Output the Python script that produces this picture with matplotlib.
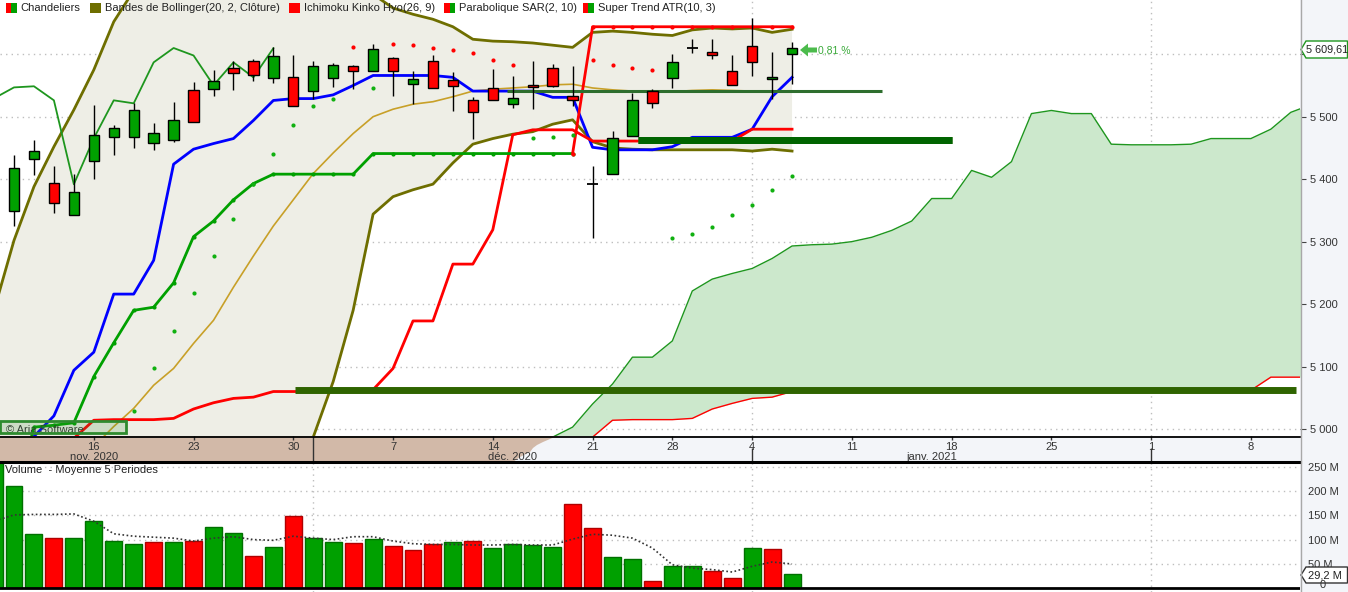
import numpy as np
import matplotlib
matplotlib.use("Agg")
import matplotlib.pyplot as plt
from matplotlib.patches import Rectangle, Polygon

plt.rcParams['font.family'] = ['Liberation Sans', 'DejaVu Sans']

W, H = 1348, 592

# --- CAC 40 quotidien, 10 nov. 2020 -> 6 janv. 2021 (index 0..39) ---
opens = [5349.5, 5431.8, 5393.4, 5342, 5428.6, 5467, 5467, 5457.4, 5462.2, 5542.3,
         5544.8, 5577.5, 5588.7, 5561.5, 5563, 5540.7, 5561.5, 5580.7, 5572.7, 5593.4,
         5552, 5588.7, 5558.4, 5526.2, 5545.5, 5519.8, 5550.1, 5577.5, 5532.6, 5391.8,
         5408.7, 5469.6, 5540.7, 5561.5, 5610, 5603, 5572.7, 5612.7, 5560, 5600]
highs = [5438.7, 5462.7, 5421, 5409, 5518.7, 5486, 5521.4, 5489.4, 5523, 5555.5,
         5574.8, 5588.7, 5592.4, 5611, 5598.8, 5588.7, 5585.5, 5582.3, 5616.4, 5595,
         5572.7, 5598.8, 5571, 5531, 5576.4, 5565.1, 5589.2, 5584.4, 5581.2, 5421,
         5477.1, 5537.4, 5543.9, 5600.4, 5624.4, 5624.4, 5598.8, 5658, 5603, 5619]
lows = [5325.5, 5406.7, 5346, 5342, 5400.7, 5439, 5450.4, 5447, 5460, 5491,
        5533.6, 5543.2, 5557.6, 5554.4, 5516.6, 5527.8, 5548, 5544.8, 5572.7, 5533.6,
        5519.8, 5545.5, 5509.6, 5464.8, 5526.2, 5514.4, 5512.8, 5547, 5517.6, 5305.8,
        5408.7, 5469.6, 5514.4, 5546.4, 5602.4, 5592.8, 5550.3, 5565, 5529, 5552]
closes = [5417.4, 5444.6, 5361.3, 5379, 5470, 5481.4, 5510, 5473.4, 5494.2, 5491,
          5556.6, 5569.5, 5566.3, 5596.7, 5516.6, 5580.7, 5582.3, 5572.7, 5607.9, 5572.7,
          5560, 5545.5, 5548.8, 5507, 5526.2, 5529.4, 5546.9, 5548.7, 5526.2, 5391.8,
          5465.4, 5526.2, 5521.4, 5587, 5610, 5598, 5550.3, 5587, 5563, 5609.61]

# indicateurs, index -1..39
boll_haut = [5190, 5302, 5388, 5452, 5511, 5575, 5652, 5702, 5745, 5770, 5785,
             5795, 5800, 5800, 5795, 5785, 5770, 5750, 5725, 5696, 5674,
             5664, 5656, 5644, 5624, 5621, 5620, 5618, 5614.5, 5611, 5635,
             5637, 5635, 5632, 5630, 5639, 5642, 5640.5, 5642, 5635, 5640]
boll_milieu = [4880, 4900, 4918, 4935, 4955, 4972, 5004, 5033, 5070, 5097, 5137,
               5174, 5227, 5277, 5325, 5367, 5409, 5442, 5473, 5500, 5512,
               5520, 5524, 5532, 5541, 5544, 5546, 5548, 5551, 5552, 5546,
               5543, 5541, 5540, 5540, 5542, 5543, 5542, 5541, 5540, 5541]
boll_bas = [4570, 4500, 4450, 4420, 4400, 4370, 4360, 4365, 4390, 4420, 4485,
            4550, 4650, 4755, 4855, 4950, 4987, 5076, 5190, 5344, 5372,
            5383, 5392, 5426, 5456, 5465, 5472, 5476, 5488, 5495, 5460,
            5450, 5448, 5447, 5447, 5447, 5447, 5447, 5445, 5448, 5445]
tenkan = [4900, 4940, 4988, 5021, 5094, 5123, 5216, 5216, 5270, 5424, 5448,
          5457, 5465, 5494, 5526, 5529, 5529, 5535, 5550, 5566, 5566,
          5566, 5566, 5563, 5541, 5541, 5541, 5541, 5531, 5531, 5451,
          5447, 5447, 5447, 5452, 5467, 5467, 5467, 5480, 5532, 5563]
kijun = [4900, 4920, 4940, 4960, 4985, 5014, 5015, 5015, 5015, 5017, 5032,
         5042, 5049, 5051, 5060, 5060, 5060, 5060, 5060, 5063, 5097,
         5173, 5173, 5264, 5264, 5319, 5471, 5479, 5479, 5479, 5461,
         5461, 5461, 5461, 5461, 5461, 5461, 5461, 5480, 5480, 5480]
super_trend = [4860, 4880, 5003, 5006, 5010, 5084, 5138, 5190, 5195, 5234, 5308,
               5333, 5367, 5393, 5408, 5408, 5408, 5408, 5408, 5441, 5441,
               5441, 5441, 5441, 5441, 5441, 5441, 5441, 5441, 5441, 5644,
               5644, 5644, 5644, 5644, 5644, 5644, 5644, 5644, 5644, 5644]

# nuage (Senkou A / B), index 24..65
senkou_a = [4900, 4930, 4960, 4987, 5003, 5040, 5072, 5115, 5115, 5141, 5221,
            5240, 5249, 5257, 5273, 5293, 5295, 5296, 5300, 5307, 5318,
            5333, 5369, 5369, 5414, 5403, 5428, 5505, 5510, 5505, 5505,
            5456, 5455, 5455, 5455, 5456, 5465, 5465, 5465, 5480, 5507, 5519]
senkou_b = [4850, 4870, 4900, 4930, 4960, 4987, 5014, 5015, 5015, 5015, 5017,
            5032, 5041, 5049, 5051, 5060, 5062, 5062, 5062, 5062, 5062,
            5062, 5062, 5062, 5062, 5062, 5062, 5062, 5062, 5062, 5062,
            5062, 5062, 5062, 5062, 5062, 5062, 5062, 5062, 5083, 5083, 5083]

# SAR parabolique
sar_vert_idx = [6, 7, 8, 9, 10, 11, 12, 13, 14, 15, 16, 18, 26, 27, 28, 33, 34, 35, 36, 37, 38, 39]
sar_vert = [5029, 5098, 5157, 5217, 5277, 5336, 5393, 5441, 5486, 5517, 5528, 5546,
            5466, 5468, 5471, 5306, 5312, 5324, 5343, 5359, 5383, 5405]
sar_rouge_idx = [17, 19, 20, 21, 22, 23, 24, 25, 29, 30, 31, 32]
sar_rouge = [5612, 5616, 5615, 5610.5, 5607, 5602.5, 5591, 5582, 5590, 5583, 5578, 5574]

# volumes (M), index -1..39, et moyenne 5 periodes
volumes = [258, 210.7, 111.6, 103.3, 103.3, 138.4, 97.1, 90.9, 95, 95, 97,
           126, 113.6, 66, 84.7, 148.8, 103.3, 95, 93, 101, 86.8,
           78.5, 91, 95, 97, 82.6, 91, 88.8, 84.7, 173.6, 124,
           64, 60, 14.5, 45.5, 45.5, 35, 20.7, 82.6, 80.6, 29.2]
vol_moy = [138, 151, 152, 152, 153, 138, 112, 107, 105, 103, 97,
           103, 106, 100, 98.5, 107, 103, 100, 106, 106, 97,
           91.5, 90, 90, 88.8, 88.8, 90, 88.8, 88.8, 101, 111,
           109, 103, 82.6, 48, 41, 38, 33, 44.8, 53.7, 49.6]

# lignes horizontales tracées (niveau, debut, fin)
niveaux = [5062.5, 5462.7, 5541.3]
niv_debut = [14.1, 31.3, 24.7]
niv_fin = [64.25, 47.0, 43.5]
niv_epaisseur = [5, 5, 2.2]

jours_labels = ['16', '23', '30', '7', '14', '21', '28', '4', '11', '18', '25', '1', '8']
jours_idx = [4, 9, 14, 19, 24, 29, 33, 37, 42, 47, 52, 57, 62]
mois_labels = ['nov. 2020', 'déc. 2020', 'janv. 2021']
mois_pos = [4, 25, 46]
debut_mois = [15, 37, 57]

VERT = '#00A000'
ROUGE = '#FF0000'
GRILLE = '#BEBEBE'
FS = 8

n = len(closes)
idx = np.arange(n)
idx_ind = np.arange(-1, n)
idx_nuage = np.arange(24, 24 + len(senkou_a))


def xi(px):
    return (px - 14) / 19.95


def yp(py):
    return 5000 + (429 - py) / 0.6246


fig = plt.figure(figsize=(W / 100, H / 100), dpi=100, facecolor='#F3F5F9')
ax = fig.add_axes([0, 1 - 436 / H, 1300 / W, 436 / H])
axd = fig.add_axes([0, 1 - 462 / H, 1300 / W, 26 / H])
axv = fig.add_axes([0, 0, 1300 / W, 130 / H])

xlim = (xi(0), xi(1300))
for a in (ax, axd, axv):
    a.set_xlim(xlim)
    for s in a.spines.values():
        s.set_visible(False)
    a.set_xticks([])
ax.set_facecolor('white')
axv.set_facecolor('white')
axd.set_facecolor('#F3F5F9')
ax.set_ylim(yp(436), yp(0))
axv.set_ylim(-8.26, 260.3)

# grilles
for y in range(5000, 5700, 100):
    ax.axhline(y, color=GRILLE, lw=1, ls=(0, (1, 3)), zorder=0.5)
for y in range(50, 300, 50):
    axv.axhline(y, color=GRILLE, lw=1, ls=(0, (1, 3)), zorder=0.5)
for d in debut_mois:
    ax.axvline(d, color=GRILLE, lw=1, ls=(0, (1, 3)), zorder=0.5)
    axv.axvline(d, color=GRILLE, lw=1, ls=(0, (1, 3)), zorder=0.5)

# Bollinger
ax.fill_between(idx_ind, boll_bas, boll_haut, color='#EEEEE6', lw=0, zorder=1)
ax.plot(idx_ind, boll_haut, color='#6E6E00', lw=2, zorder=3)
ax.plot(idx_ind, boll_bas, color='#6E6E00', lw=2, zorder=3)
ax.plot(idx_ind, boll_milieu, color='#C8A028', lw=1.2, zorder=3)

# nuage Ichimoku
sa = np.array(senkou_a)
sb = np.array(senkou_b)
ax.fill_between(idx_nuage, sa, sb, where=sa >= sb, interpolate=True, color='#CCE8CC', lw=0, zorder=2)
ax.plot(idx_nuage, sa, color='#1E961E', lw=1, zorder=3)
ax.plot(idx_nuage, sb, color=ROUGE, lw=1, zorder=3)

# Tenkan / Kijun / Chikou
ax.plot(idx_ind, tenkan, color='#0000FF', lw=2, zorder=4)
ax.plot(idx_ind, kijun, color=ROUGE, lw=2, zorder=4)
chikou_x = idx[25:] - 26
ax.plot(chikou_x, closes[25:], color='#1E961E', lw=1.3, zorder=4)

# Super Trend
st = np.array(super_trend)
bascule = 30
ax.plot(idx_ind[:bascule], st[:bascule], color=VERT, lw=2, marker='o', ms=2, zorder=4)
ax.plot(idx_ind[bascule - 1:], st[bascule - 1:], color=ROUGE, lw=2, marker='o', ms=2, zorder=4)

# SAR
ax.plot(sar_vert_idx, sar_vert, 'o', color='#10B010', ms=3, mec='none', zorder=5)
ax.plot(sar_rouge_idx, sar_rouge, 'o', color=ROUGE, ms=3, mec='none', zorder=5)

# lignes tracées
for lv, d0, d1, ep in zip(niveaux, niv_debut, niv_fin, niv_epaisseur):
    ax.plot([d0, d1], [lv, lv], color='#2F6400' if ep > 3 else '#2E6E2E', lw=ep,
            solid_capstyle='butt', zorder=5.5)
ax.plot([niv_debut[1], niv_fin[1]], [niveaux[1]] * 2, color='#006400', lw=5,
        solid_capstyle='butt', zorder=5.6)

# rectangle + copyright
ax.add_patch(Rectangle((xi(0), yp(432.7)), xi(126) - xi(0), yp(420.7) - yp(432.7),
                       facecolor=(0.2, 0.55, 0.2, 0.18), edgecolor='#2E8B2E', lw=2, zorder=5))
ax.text(xi(6), yp(430), '© Aria Software', fontsize=FS, color='#333333', va='center', zorder=4.5)

# chandeliers
for i in idx:
    o, h, l, c = opens[i], highs[i], lows[i], closes[i]
    ax.vlines(i, l, h, color='black', lw=1, zorder=6)
    if abs(c - o) < 0.01:
        ax.hlines(c, i - 0.28, i + 0.28, color='black', lw=1.3, zorder=7)
    else:
        col = VERT if c > o else ROUGE
        ax.add_patch(Rectangle((i - 0.26, min(o, c)), 0.52, abs(c - o),
                               facecolor=col, edgecolor='black', lw=1, zorder=7))

# axe des prix a droite
ax.yaxis.tick_right()
ax.set_yticks(range(5000, 5700, 100))
ax.set_yticklabels(['5 000', '5 100', '5 200', '5 300', '5 400', '5 500', '5 600'])
ax.tick_params(axis='y', length=4, color='#444444', labelsize=FS, labelcolor='#333333', pad=3)

# volumes
clot_prec = [opens[0]] + closes[:-1]
vol_cols = [VERT] + [VERT if c >= p else ROUGE for c, p in zip(closes, clot_prec)]
vol_bords = ['#007000' if c == VERT else '#B00000' for c in vol_cols]
axv.bar(idx_ind, volumes, width=0.85, color=vol_cols, edgecolor=vol_bords, lw=1, zorder=2)
axv.plot(idx_ind, vol_moy, color='#333333', lw=1.2, ls=(0, (1, 1.5)), zorder=3)
axv.axhline(0, color='black', lw=2, zorder=4)
axv.yaxis.tick_right()
axv.set_yticks([50, 100, 150, 200, 250])
axv.set_yticklabels(['50 M', '100 M', '150 M', '200 M', '250 M'])
axv.tick_params(axis='y', length=0, labelsize=FS, labelcolor='#333333', pad=6)
fig.text(1323 / W, 1 - 585 / H, '0', fontsize=FS, color='#333333', ha='center', va='center')
axv.text(xi(5), (588 - 470.5) / 0.484, 'Volume  - Moyenne 5 Periodes', fontsize=FS,
         color='#222222', va='center', zorder=5)

# bande des dates
axd.set_ylim(0, 1)
axd.set_yticks([])
tan = [(0, 436), (556.7, 436), (550, 439), (543, 442), (537, 445), (533, 448),
       (530, 452), (520, 457), (513, 462), (0, 462)]
axd.add_patch(Polygon([(xi(px), (462 - py) / 26) for px, py in tan], closed=True,
                      facecolor='#D2B9A8', edgecolor='none', zorder=1))
for lab, j in zip(jours_labels, jours_idx):
    axd.text(j, (462 - 447.5) / 26, lab, ha='center', va='center', fontsize=FS, color='#333333', zorder=3)
    axd.vlines(j, (462 - 440) / 26, 1, color='#333333', lw=1, zorder=3)
for lab, j in zip(mois_labels, mois_pos):
    axd.text(j, (462 - 456.5) / 26, lab, ha='center', va='center', fontsize=FS, color='#333333', zorder=3)
axd.vlines(debut_mois[0], 0, 1, color='#333333', lw=1, zorder=3)
axd.vlines(debut_mois[1:], 0, (462 - 448) / 26, color='#333333', lw=1, zorder=3)


def fx(px):
    return px / W


def fy(py):
    return 1 - py / H


# bordures
fig.add_artist(plt.Line2D([0, fx(1300)], [fy(436.5), fy(436.5)], color='black', lw=1.3))
fig.add_artist(plt.Line2D([0, fx(1300)], [fy(462), fy(462)], color='black', lw=2.2))
fig.add_artist(plt.Line2D([fx(1300.5), fx(1300.5)], [0, 1], color='#A8A8A8', lw=1))

# etiquette du dernier cours
fig.add_artist(Polygon([(fx(1301), fy(49.5)), (fx(1306), fy(41)), (fx(1347.5), fy(41)),
                        (fx(1347.5), fy(58)), (fx(1306), fy(58))], closed=True,
                       facecolor='white', edgecolor='#1E961E', lw=1, transform=fig.transFigure))
fig.text(fx(1306.5), fy(49.5), '5 609,61', fontsize=7.8, color='#222222', va='center')
fig.add_artist(Polygon([(fx(1301), fy(575)), (fx(1306), fy(567)), (fx(1347.5), fy(567)),
                        (fx(1347.5), fy(583)), (fx(1306), fy(583))], closed=True,
                       facecolor='white', edgecolor='#333333', lw=1, transform=fig.transFigure))
fig.text(fx(1308), fy(575), '29,2 M', fontsize=FS, color='#222222', va='center')

# variation
fig.add_artist(Polygon([(fx(800), fy(50)), (fx(808), fy(43.5)), (fx(808), fy(47.5)),
                        (fx(817), fy(47.5)), (fx(817), fy(52.5)), (fx(808), fy(52.5)),
                        (fx(808), fy(56.5))], closed=True, facecolor='#4CBB4C',
                       edgecolor='none', transform=fig.transFigure))
fig.text(fx(818), fy(50.5), '0,81 %', fontsize=7.5, color='#3AAA3A', va='center')

# legende
legende = [('Chandeliers', 5.5, (ROUGE, VERT)),
           ('Bandes de Bollinger(20, 2, Clôture)', 90, ('#6E6E00', '#6E6E00')),
           ('Ichimoku Kinko Hyo(26, 9)', 289, (ROUGE, ROUGE)),
           ('Parabolique SAR(2, 10)', 444, (ROUGE, VERT)),
           ('Super Trend ATR(10, 3)', 582.5, (ROUGE, VERT))]
for txt, x0, (c1, c2) in legende:
    fig.add_artist(Rectangle((fx(x0), fy(13)), 5.5 / W, 10 / H, facecolor=c1, edgecolor='none',
                             transform=fig.transFigure))
    fig.add_artist(Rectangle((fx(x0 + 5.5), fy(13)), 5.5 / W, 10 / H, facecolor=c2, edgecolor='none',
                             transform=fig.transFigure))
    fig.text(fx(x0 + 15), fy(8), txt, fontsize=FS, color='#222222', va='center')

fig.savefig('out.png', dpi=100, facecolor=fig.get_facecolor())
